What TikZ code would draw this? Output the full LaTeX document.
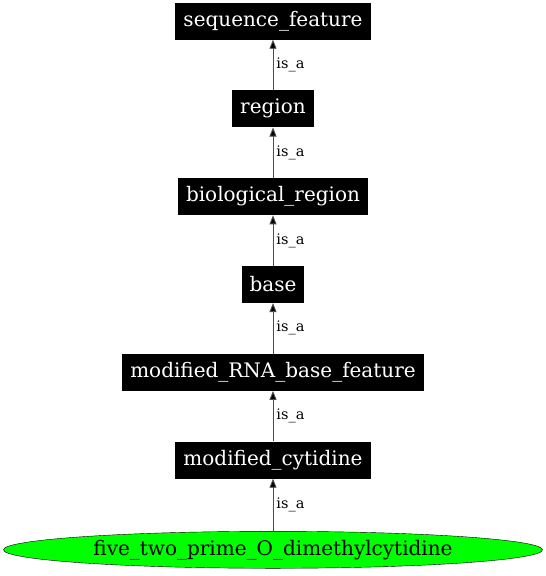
\documentclass[tikz,border=0pt]{standalone}
\usepackage{fontspec}
\setmainfont{DejaVu Serif}
\usetikzlibrary{shapes.geometric, arrows.meta}
\tikzstyle{term} = [
    rectangle,
    fill=black,
    text=white,
    minimum height=37pt,
    inner xsep=8pt,
    font=\fontsize{20}{22}\selectfont
]
\tikzstyle{leaf} = [
    ellipse,
    draw=black,
    fill=green,
    minimum width=539pt,
    minimum height=37pt,
    inner sep=0pt,
    font=\fontsize{20}{22}\selectfont
]
\tikzstyle{arrow} = [line width=0.9pt, draw=black!70, -{Triangle[length=9pt,width=7pt,fill=black]}]
\tikzstyle{rel} = [right, inner sep=3pt, font=\fontsize{14.5}{16}\selectfont]
\begin{document}
\begin{tikzpicture}[node distance=87.8pt]
\useasboundingbox (0pt,0pt) rectangle (546pt,-576pt);

\node (seqfeat) [term] at (273pt,-21pt) {sequence\_feature};

\node (region) [term, below of=seqfeat] {region};

\node (bioregion) [term, below of=region] {biological\_region};

\node (base) [term, below of=bioregion] {base};

\node (modrna) [term, below of=base] {modified\_RNA\_base\_feature};

\node (modcyt) [term, below of=modrna] {modified\_cytidine};

\node (dimethyl) [leaf, below of=modcyt, yshift=-2pt]
{five\_two\_prime\_O\_dimethylcytidine};

\draw [arrow] (region) -- node[rel]{is\_a} (seqfeat);
\draw [arrow] (bioregion) -- node[rel]{is\_a} (region);
\draw [arrow] (base) -- node[rel]{is\_a} (bioregion);
\draw [arrow] (modrna) -- node[rel]{is\_a} (base);
\draw [arrow] (modcyt) -- node[rel]{is\_a} (modrna);
\draw [arrow] (dimethyl) -- node[rel]{is\_a} (modcyt);

\end{tikzpicture}
\end{document}
